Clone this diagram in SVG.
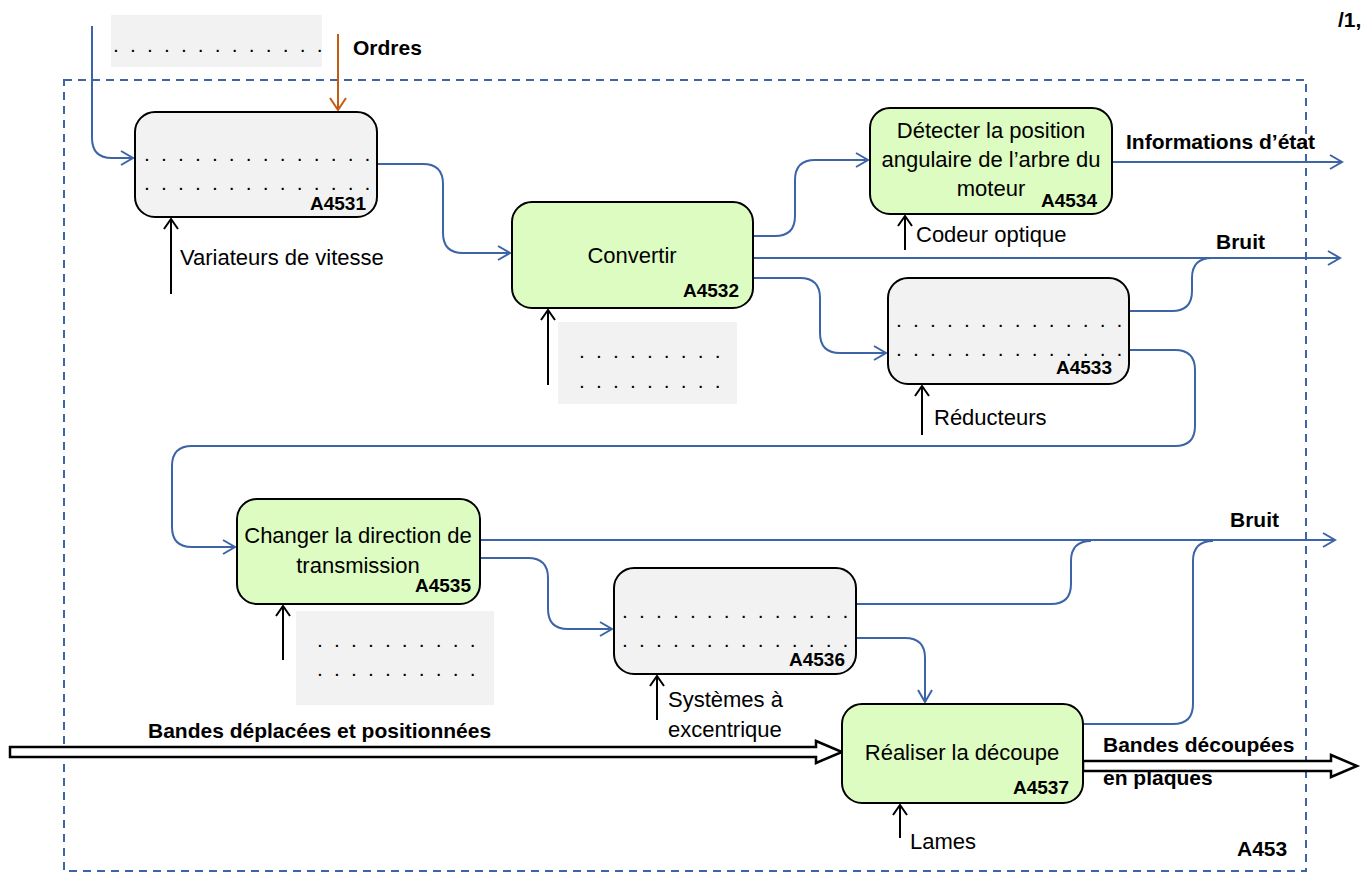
<svg xmlns="http://www.w3.org/2000/svg" width="1367" height="877" viewBox="0 0 1367 877">
<defs>
<style>
.box{stroke:#000;stroke-width:2}
.g{fill:#f2f2f2}
.v{fill:#ddfcc1}
.t{font-family:"Liberation Sans",Arial,sans-serif;font-size:22px;fill:#000}
.b{font-family:"Liberation Sans",Arial,sans-serif;font-size:21px;font-weight:bold;fill:#000}
.id{font-family:"Liberation Sans",Arial,sans-serif;font-size:19px;font-weight:bold;fill:#000;text-anchor:end}
.dots{font-family:"Liberation Sans",Arial,sans-serif;font-size:21px;fill:#000;letter-spacing:2.65px}
.c{text-anchor:middle}
.f{fill:none;stroke:#3c64a6;stroke-width:2}
.k{fill:none;stroke:#000;stroke-width:2}
.o{fill:none;stroke:#c55a11;stroke-width:2}
.h{fill:#fff;stroke:#000;stroke-width:2.5}
</style>
<marker id="ab" markerUnits="userSpaceOnUse" markerWidth="16" markerHeight="18" refX="13" refY="8" orient="auto" overflow="visible"><path d="M1,1 L13,8 L1,15" fill="none" stroke="#3c64a6" stroke-width="2"/></marker>
<marker id="ak" markerUnits="userSpaceOnUse" markerWidth="16" markerHeight="18" refX="11" refY="7" orient="auto" overflow="visible"><path d="M1,0 L11,7 L1,14" fill="none" stroke="#000" stroke-width="2"/></marker>
<marker id="ao" markerUnits="userSpaceOnUse" markerWidth="16" markerHeight="18" refX="13" refY="8" orient="auto" overflow="visible"><path d="M1,0 L13,8 L1,16" fill="none" stroke="#c55a11" stroke-width="2"/></marker>
</defs>
<rect width="1367" height="877" fill="#fff"/>

<g id="frame">
<rect x="64" y="80" width="1242" height="791" fill="none" stroke="#3c64a6" stroke-width="2" stroke-dasharray="8 6"/>
<text class="b" x="1237" y="856">A453</text>
<text class="b" x="1338" y="27">/1,</text>
</g>

<g id="connectors">
<path class="f" d="M92,26 V138 Q92,158 112,158 H133" marker-end="url(#ab)"/>
<path class="f" d="M377,164 H423 Q443,164 443,184 V233 Q443,253 463,253 H510" marker-end="url(#ab)"/>
<path class="f" d="M753,236 H775 Q795,236 795,216 V180 Q795,160 815,160 H868" marker-end="url(#ab)"/>
<path class="f" d="M753,258 H1340" marker-end="url(#ab)"/>
<path class="f" d="M753,278 H800 Q820,278 820,298 V333 Q820,353 840,353 H886" marker-end="url(#ab)"/>
<path class="f" d="M1112,162 H1342" marker-end="url(#ab)"/>
<path class="f" d="M1129,311 H1172 Q1192,311 1192,291 V278 Q1192,258 1212,258"/>
<path class="f" d="M1129,350 H1175 Q1195,350 1195,370 V426 Q1195,446 1175,446 H192 Q172,446 172,466 V527 Q172,547 192,547 H235" marker-end="url(#ab)"/>
<path class="f" d="M480,540 H1335" marker-end="url(#ab)"/>
<path class="f" d="M480,558 H528 Q548,558 548,578 V609 Q548,629 568,629 H612" marker-end="url(#ab)"/>
<path class="f" d="M856,604 H1051 Q1071,604 1071,584 V561 Q1071,541 1091,541"/>
<path class="f" d="M856,638 H905 Q925,638 925,658 V702" marker-end="url(#ab)"/>
<path class="f" d="M1083,724 H1173 Q1193,724 1193,704 V561 Q1193,541 1213,541"/>
<path class="o" d="M338,34 V110" marker-end="url(#ao)"/>
<path class="k" d="M171,294 V219" marker-end="url(#ak)"/>
<path class="k" d="M548,385 V310" marker-end="url(#ak)"/>
<path class="k" d="M905,250 V216" marker-end="url(#ak)"/>
<path class="k" d="M922,435 V386" marker-end="url(#ak)"/>
<path class="k" d="M283,660 V606" marker-end="url(#ak)"/>
<path class="k" d="M657,720 V676" marker-end="url(#ak)"/>
<path class="k" d="M900,838 V805" marker-end="url(#ak)"/>
<polygon class="h" points="10,747 816,747 816,741 842,752 816,763 816,757 10,757"/>
<polygon class="h" points="1083,761 1331,761 1331,755 1357,766 1331,777 1331,771 1083,771"/>
<text class="b" x="353" y="55">Ordres</text>
<text class="t" x="180" y="265">Variateurs de vitesse</text>
<text class="b" x="1126" y="149">Informations d’état</text>
<text class="t" x="916" y="242">Codeur optique</text>
<text class="b" x="1216" y="249">Bruit</text>
<text class="t" x="934" y="425">Réducteurs</text>
<text class="b" x="1230" y="527">Bruit</text>
<text class="t" x="668" y="707">Systèmes à</text>
<text class="t" x="668" y="737">excentrique</text>
<text class="b" x="148" y="738">Bandes déplacées et positionnées</text>
<text class="b" x="1103" y="752">Bandes découpées</text>
<text class="b" x="1103" y="785">en plaques</text>
<text class="t" x="910" y="849">Lames</text>
</g>

<g id="mech1">
<rect x="111" y="15" width="211" height="52" fill="#f2f2f2"/>
<text class="dots" x="113" y="52">. . . . . . . . . . . . .</text>
</g>
<g id="mech2">
<rect x="558" y="322" width="179" height="82" fill="#f2f2f2"/>
<text class="dots" x="579" y="358">. . . . . . . . .</text>
<text class="dots" x="579" y="388">. . . . . . . . .</text>
</g>
<g id="mech3">
<rect x="296" y="611" width="198" height="94" fill="#f2f2f2"/>
<text class="dots" x="317" y="647">. . . . . . . . . .</text>
<text class="dots" x="317" y="676">. . . . . . . . . .</text>
</g>

<g id="A4531">
<rect class="box g" x="135" y="112" width="242" height="105" rx="20"/>
<text class="dots" x="144" y="161">. . . . . . . . . . . . . .</text>
<text class="dots" x="144" y="190">. . . . . . . . . . . . . .</text>
<text class="id" x="366" y="210">A4531</text>
</g>
<g id="A4532">
<rect class="box v" x="512" y="202" width="241" height="106" rx="20"/>
<text class="t c" x="632" y="263">Convertir</text>
<text class="id" x="739" y="297">A4532</text>
</g>
<g id="A4534">
<rect class="box v" x="870" y="108" width="242" height="106" rx="20"/>
<text class="t c" x="991" y="138">Détecter la position</text>
<text class="t c" x="991" y="167">angulaire de l’arbre du</text>
<text class="t c" x="991" y="196">moteur</text>
<text class="id" x="1097" y="207">A4534</text>
</g>
<g id="A4533">
<rect class="box g" x="888" y="278" width="241" height="106" rx="20"/>
<text class="dots" x="896" y="327">. . . . . . . . . . . . . .</text>
<text class="dots" x="896" y="356">. . . . . . . . . . . . . .</text>
<text class="id" x="1112" y="374">A4533</text>
</g>
<g id="A4535">
<rect class="box v" x="237" y="499" width="243" height="105" rx="20"/>
<text class="t c" x="358" y="543">Changer la direction de</text>
<text class="t c" x="358" y="573">transmission</text>
<text class="id" x="471" y="592">A4535</text>
</g>
<g id="A4536">
<rect class="box g" x="614" y="568" width="242" height="106" rx="20"/>
<text class="dots" x="622" y="618">. . . . . . . . . . . . . .</text>
<text class="dots" x="622" y="647">. . . . . . . . . . . . . .</text>
<text class="id" x="845" y="666">A4536</text>
</g>
<g id="A4537">
<rect class="box v" x="842" y="704" width="241" height="99" rx="20"/>
<text class="t c" x="962" y="760">Réaliser la découpe</text>
<text class="id" x="1069" y="794">A4537</text>
</g>
</svg>
